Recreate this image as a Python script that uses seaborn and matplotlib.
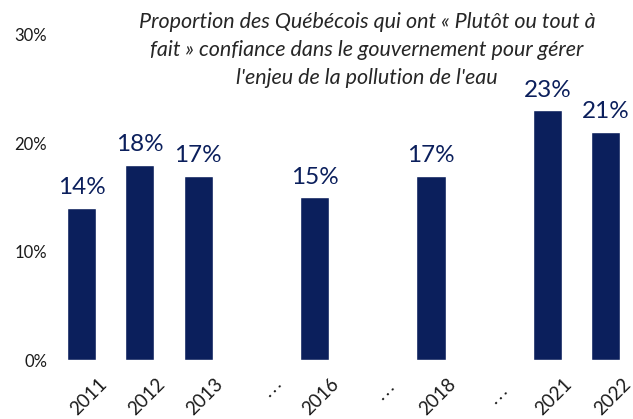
import matplotlib
matplotlib.use("Agg")
import matplotlib.pyplot as plt
import matplotlib.transforms as mtransforms
import seaborn as sns
import pandas as pd

# ---- data ----
categories = ["2011", "2012", "2013", ".\u2009.\u2009.", "2016", ".\u2009.\u2009. ", "2018",
              ".\u2009.\u2009.  ", "2021", "2022"]
years = ["2011", "2012", "2013", "2016", "2018", "2021", "2022"]
values = [14, 18, 17, 15, 17, 23, 21]
yticks = [0, 10, 20, 30]
ytick_labels = ["0%", "10%", "20%", "30%"]
title_lines = ["Proportion des Québécois qui ont « Plutôt ou tout à",
               "fait » confiance dans le gouvernement pour gérer",
               "l'enjeu de la pollution de l'eau"]

sns.set_theme(style="white")
plt.rcParams["font.family"] = ["Lato", "DejaVu Sans"]

navy = "#0B1F5C"
df = pd.DataFrame({"year": years, "value": values})

fig = plt.figure(figsize=(6.33, 4.19), dpi=100)
ax = fig.add_axes([52.6 / 633, 59 / 419, (633 - 52.6) / 633, (384.5 - 59) / 419])

sns.barplot(data=df, x="year", y="value", order=categories, color=navy,
            saturation=1, width=0.5, ax=ax)

ax.bar_label(ax.containers[0], labels=[f"{v}%" for v in values],
             padding=7, color=navy, fontsize=17.5)

ax.set_xlim(-0.5, 9.47)
ax.set_ylim(0, 30)
ax.set_yticks(yticks)
ax.set_yticklabels(ytick_labels, fontsize=12, color="#1a1a1a")
ax.set_xlabel("")
ax.set_ylabel("")
ax.tick_params(axis="both", length=0)
ax.tick_params(axis="x", pad=0)
ax.tick_params(axis="y", pad=4)

ax.set_xticks(range(len(categories)))
ax.set_xticklabels(categories, fontsize=13.5, color="#1a1a1a")
offset = mtransforms.ScaledTranslation(0.22, -0.215, fig.dpi_scale_trans)
for lbl in ax.get_xticklabels():
    lbl.set_rotation(45)
    lbl.set_rotation_mode("anchor")
    lbl.set_ha("right")
    lbl.set_va("center")
    lbl.set_transform(lbl.get_transform() + offset)

for s in ax.spines.values():
    s.set_visible(False)

for i, line in enumerate(title_lines):
    fig.text(367 / 633, 1 - (22 + 28 * i) / 419, line, ha="center", va="center",
             fontsize=15.5, style="italic", color="#262626")

fig.savefig("out.png", dpi=100)
